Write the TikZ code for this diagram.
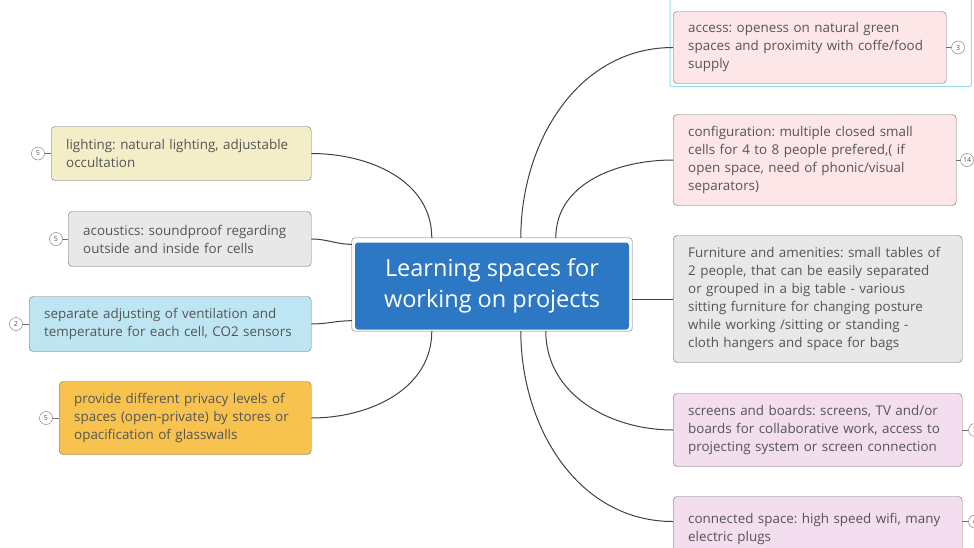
\documentclass[tikz,border=0pt]{standalone}
\usepackage{fontspec}
\setmainfont{Open Sans}
\frenchspacing
\definecolor{hubblue}{HTML}{2C78C4}
\definecolor{textgray}{HTML}{555555}
\definecolor{edgegray}{HTML}{6E6E6E}
\definecolor{pinkfill}{HTML}{FDE6E7}
\definecolor{greyfill}{HTML}{E8E8E8}
\definecolor{mauvefill}{HTML}{F3DEEF}
\definecolor{sandfill}{HTML}{F4EEC8}
\definecolor{skyfill}{HTML}{BEE6F2}
\definecolor{amberfill}{HTML}{F8C24F}
\definecolor{selectblue}{HTML}{9BD8F3}
\tikzset{
  topic/.style={draw=edgegray, rounded corners=4pt, align=left, text=textgray,
    font=\fontsize{13.4}{18}\selectfont, inner xsep=15pt, inner ysep=0pt, anchor=west},
  badge/.style={draw=edgegray, circle, inner sep=0pt, minimum size=13pt, fill=white,
    text=textgray, font=\fontsize{7}{7}\selectfont},
  link/.style={draw=black!75, line width=1pt}
}
\begin{document}
\begin{tikzpicture}[x=1pt, y=1pt]
\useasboundingbox (0,0) rectangle (974,-547);

\node[fill=hubblue, text=white, rounded corners=3pt, align=center, minimum width=274, minimum height=87,
  inner sep=0pt, font=\fontsize{23.5}{31}\selectfont] (hub) at (492,-286) {Learning spaces for\\working on projects};
\draw[gray!60, line width=0.8pt, rounded corners=3pt] ([shift={(-3,4.5)}]hub.north west) rectangle ([shift={(3,-1.5)}]hub.south east);

% right side
\node[topic, fill=pinkfill, text width=243, minimum height=72] (access) at (673,-47.5)
  {access: openess on natural green\\spaces and proximity with coffe/food\\supply};
\node[topic, fill=pinkfill, text width=253, minimum height=91] (config) at (673,-160)
  {configuration: multiple closed small\\cells for 4 to 8 people prefered,( if\\open space, need of phonic/visual\\separators)};
\node[topic, fill=greyfill, text width=259, minimum height=127] (furniture) at (673,-299)
  {Furniture and amenities: small tables of\\2 people, that can be easily separated\\or grouped in a big table - various\\sitting furniture for changing posture\\while working /sitting or standing -\\cloth hangers and space for bags};
\node[topic, fill=mauvefill, text width=259, minimum height=73] (screens) at (673,-430)
  {screens and boards: screens, TV and/or\\boards for collaborative work, access to\\projecting system or screen connection};
\node[topic, fill=mauvefill, text width=259, minimum height=64] (connected) at (673,-528.5)
  {connected space: high speed wifi, many\\electric plugs};

% left side
\node[topic, fill=sandfill, text width=230, minimum height=54] (lighting) at (51,-153.5)
  {lighting: natural lighting, adjustable\\occultation};
\node[topic, fill=greyfill, text width=213, minimum height=55] (acoustics) at (68,-239)
  {acoustics: soundproof regarding\\outside and inside for cells};
\node[topic, fill=skyfill, text width=252, minimum height=55] (airflow) at (29,-324)
  {separate adjusting of ventilation and\\temperature for each cell, CO2 sensors};
\node[topic, fill=amberfill, text width=222, minimum height=73] (privacy) at (59,-418)
  {provide different privacy levels of\\spaces (open-private) by stores or\\opacification of glasswalls};

% selection frame
\draw[selectblue, line width=1pt, rounded corners=2pt] ([shift={(-3,15)}]access.north west) rectangle ([shift={(25,-3)}]access.south east);

% badges
\node[badge] (b1) at (958,-47.5) {3};
\node[badge] (b2) at (967,-160) {14};
\node[badge] (b3) at (975,-430) {3};
\node[badge] (b4) at (975,-521.5) {6};
\node[badge] (b5) at (38,-153.5) {5};
\node[badge] (b6) at (56,-239) {5};
\node[badge] (b7) at (16,-324) {2};
\node[badge] (b8) at (46,-418) {5};
\draw[edgegray] (access.east) -- (b1);
\draw[edgegray] (config.east) -- (b2);
\draw[edgegray] (screens.east) -- (b3);
\draw[edgegray] ([yshift=7]connected.east) -- (b4);
\draw[edgegray] (lighting.west) -- (b5);
\draw[edgegray] (acoustics.west) -- (b6);
\draw[edgegray] (airflow.west) -- (b7);
\draw[edgegray] (privacy.west) -- (b8);

% links
\draw[link] ([shift={(166,4.5)}]hub.north west) to[out=90, in=180] (access.west);
\draw[link] ([shift={(201,4.5)}]hub.north west) to[out=90, in=180] (config.west);
\draw[link] ([xshift=3]hub.east |- furniture.west) -- (furniture.west);
\draw[link] ([shift={(191,-1.5)}]hub.south west) to[out=-90, in=180] (screens.west);
\draw[link] ([shift={(166,-1.5)}]hub.south west) to[out=-90, in=180] ([yshift=7]connected.west);
\draw[link] ([shift={(77,4.5)}]hub.north west) to[out=90, in=0] (lighting.east);
\draw[link] ([shift={(-3,-2)}]hub.north west) to[out=180, in=0] (acoustics.east);
\draw[link] ([shift={(-3,9)}]hub.south west) to[out=180, in=0] (airflow.east);
\draw[link] ([shift={(77,-1.5)}]hub.south west) to[out=-90, in=0] (privacy.east);
\end{tikzpicture}
\end{document}
